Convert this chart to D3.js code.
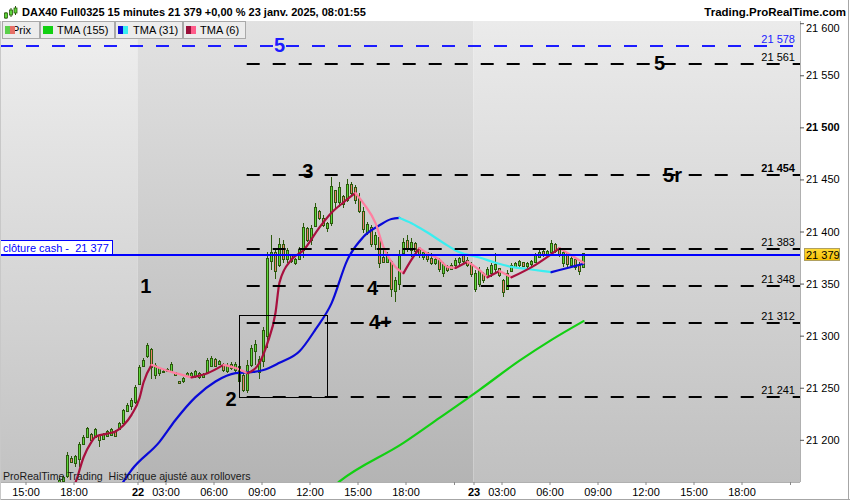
<!DOCTYPE html>
<html>
<head>
<meta charset="utf-8">
<script src="https://cdn.jsdelivr.net/npm/d3@7/dist/d3.min.js"></script>
<style>
html,body{margin:0;padding:0;background:#fff;overflow:hidden;}
svg{display:block;font-family:Arial,"Liberation Sans",Helvetica,sans-serif;}
</style>
</head>
<body>
<svg id="chart" width="850" height="500"></svg>
<script>
// ================= DATA =================
const firstBarIndex = -20;   // bar index of first candle (day 22 01:15 = 0, 15-min bars)
const opens  = [21150,21160,21165,21183,21178,21182,21196,21203,21206,21203,21205,21201,21204,21205,21208,21210,21216,21228,21232,21236,
                21254,21271,21280,21287,21262,21264,21265,21266,21266,21265,21256,21256,21261,21260,21261,21264,21260,21265,21271,21278,
                21273,21273,21266,21273,21267,21271,21262,21248,21272,21285,21265,21276,21300,21372,21380,21368,21388,21374,21377,21370,
                21374,21382,21403,21392,21405,21420,21413,21403,21408,21440,21428,21434,21430,21446,21443,21432,21420,21400,21404,21388,
                21395,21376,21371,21372,21343,21350,21379,21392,21382,21389,21383,21376,21380,21375,21370,21373,21360,21367,21364,21368,
                21371,21377,21373,21369,21345,21350,21360,21357,21360,21364,21365,21353,21345,21362,21366,21368,21371,21367,21369,21371,
                21376,21381,21377,21380,21388,21383,21370,21379,21368,21374,21368,21366];
const highs  = [21163,21165,21188,21184,21185,21198,21205,21212,21207,21211,21206,21207,21209,21211,21209,21217,21230,21235,21240,21253,
                21272,21279,21293,21288,21274,21270,21267,21269,21275,21265,21256,21260,21265,21265,21267,21265,21264,21279,21280,21279,
                21277,21274,21274,21275,21275,21274,21265,21277,21291,21296,21280,21308,21380,21397,21384,21394,21392,21384,21377,21375,
                21385,21408,21404,21406,21427,21421,21416,21409,21452,21440,21448,21435,21450,21448,21445,21437,21424,21409,21406,21400,
                21395,21382,21380,21373,21356,21382,21394,21397,21394,21390,21385,21382,21380,21379,21376,21375,21371,21368,21370,21375,
                21376,21378,21376,21371,21363,21366,21361,21366,21370,21379,21365,21354,21363,21370,21371,21373,21371,21371,21373,21379,
                21382,21382,21382,21392,21389,21384,21382,21380,21377,21375,21371,21379];
const lows   = [21147,21159,21163,21178,21174,21174,21195,21202,21198,21202,21193,21200,21203,21204,21203,21209,21214,21227,21229,21234,
                21253,21270,21279,21258,21258,21261,21264,21265,21264,21261,21254,21255,21261,21259,21259,21258,21259,21264,21270,21270,
                21272,21265,21264,21267,21264,21245,21246,21245,21270,21272,21258,21270,21288,21363,21354,21366,21370,21370,21370,21368,
                21373,21375,21390,21387,21404,21411,21404,21400,21405,21423,21424,21423,21428,21435,21426,21418,21399,21397,21385,21382,
                21365,21370,21370,21337,21332,21344,21378,21380,21376,21378,21375,21373,21371,21368,21368,21361,21356,21361,21363,21366,
                21368,21370,21366,21356,21342,21347,21351,21356,21356,21360,21356,21337,21344,21361,21365,21366,21366,21365,21366,21370,
                21375,21376,21375,21379,21379,21376,21366,21366,21366,21363,21358,21365];
const closes = [21161,21164,21185,21179,21184,21196,21203,21211,21200,21210,21200,21206,21208,21210,21204,21216,21229,21233,21238,21251,
                21270,21277,21291,21270,21272,21269,21266,21268,21273,21262,21255,21259,21264,21264,21266,21260,21263,21277,21279,21271,
                21276,21267,21272,21269,21273,21256,21248,21272,21288,21292,21278,21305,21375,21380,21362,21388,21374,21382,21372,21374,
                21383,21404,21392,21403,21424,21413,21406,21408,21444,21428,21443,21426,21446,21437,21430,21420,21402,21407,21388,21397,
                21370,21371,21378,21345,21353,21378,21390,21383,21390,21381,21377,21380,21374,21370,21374,21364,21369,21363,21368,21373,
                21375,21372,21368,21359,21360,21363,21353,21364,21368,21369,21358,21342,21360,21368,21370,21372,21367,21370,21372,21378,
                21380,21377,21381,21389,21381,21378,21380,21369,21375,21366,21362,21379];

const tma155Bars = [46,50,66,75,85,95,103,111];
const tma155Vals = [21147,21160,21197,21221,21248,21276,21296,21314];

const tma31Bars = [-7,-4,-2,5,9,14,19,24,28,31,35,40,44,48,52,56,60,63,65,68,72,76,80,85,89,93,97,101,103,107,111];
const tma31Vals = [21138,21160,21171,21198,21219,21241,21256,21264,21265,21267,21274,21285,21306,21331,21373,21395,21406,21412,21413,
                   21408,21399,21389,21380,21375,21370,21366,21364,21362,21361,21365,21369];

const tma6Bars = [-18,-16,-14,-12,-11,-8,-6,-4,-2,0,1,3,5,9,13,17,21,24,27,30,32,34,35,38,41,45,48,51,54,56,59,61,64,66,68,70,72,75,77,79,82,85,87,90,93,99,105,111];
const tma6Vals = [21147,21159,21183,21198,21203,21206,21208,21214,21224,21240,21255,21272,21269,21264,21260,21264,21272,21269,21264,21274,
                  21293,21322,21351,21373,21382,21404,21418,21428,21437,21427,21408,21385,21366,21360,21373,21384,21379,21373,21366,21365,
                  21371,21363,21356,21362,21356,21368,21384,21370];

const levelValues = [21561,21454,21383,21348,21312,21241];
const levelBold   = [false,true,false,false,false,false];
const levelStartBar = 26.8;
const blueLevel = 21578;
const cashClose = 21377;
const lastPrice = 21379;

const yTickValues = [21200,21250,21300,21350,21400,21450,21500,21550,21600];
const xTickLabels = ["15:00","18:00","22","03:00","06:00","09:00","12:00","15:00","18:00","23","03:00","06:00","09:00","12:00","15:00","18:00"];
const xTickBars   = [-28,-16,0,7,19,31,43,55,67,84,91,103,115,127,139,151];
const xMinorTickBars = [79,163];
const dayStartBars = [-84,0,84];

const waveLabels = ["1","2","3","4","4+","5","5r","5"];
const waveBars   = [1.6,22.9,42.1,58.25,60.25,130,133.25,35];
const wavePrices = [21341,21232,21451.5,21339,21306.5,21555,21447.5,21572.5];
const boxBars   = [25,47];
const boxPrices = [21320,21241];

const titleText = "DAX40 Full0325 15 minutes 21 379 +0,00 % 23 janv. 2025, 08:01:55";
const brandText = "Trading.ProRealTime.com";
const footText  = "ProRealTime Trading  Historique ajusté aux rollovers";
const cashText  = "clôture cash -  21 377";
const legendItems = ["Prix","TMA (155)","TMA (31)","TMA (6)"];

// ================= LAYOUT =================
const W = 850, H = 500;
const plot = {left:0, right:800, top:21, bottom:482};
const svg = d3.select("#chart");
const fmt = d3.formatLocale({decimal:",", thousands:" ", grouping:[3], currency:["","€"]}).format(",d");

const x = d3.scaleLinear().domain([0,111]).range([139.5,583.5]);
const y = d3.scaleLinear().domain([21159.5,21600]).range([482,23.2]);

const defs = svg.append("defs");
function grad(id, c1, c2){
  const g = defs.append("linearGradient").attr("id",id).attr("gradientUnits","userSpaceOnUse")
    .attr("x1",0).attr("x2",0).attr("y1",plot.top).attr("y2",plot.bottom);
  g.append("stop").attr("offset","0").attr("stop-color",c1);
  g.append("stop").attr("offset","1").attr("stop-color",c2);
}
grad("bgLight","#efefef","#c2c2c2");
grad("bgDark","#e2e2e2","#b4b4b4");
grad("bgLight2","#ebebeb","#c0c0c0");
const tagGrad = defs.append("linearGradient").attr("id","tag").attr("x1",0).attr("x2",0).attr("y1",0).attr("y2",1);
tagGrad.append("stop").attr("offset",0).attr("stop-color","#ffdc3a");
tagGrad.append("stop").attr("offset",1).attr("stop-color","#f5bd00");
defs.append("clipPath").attr("id","plotClip").append("rect")
  .attr("x",plot.left).attr("y",plot.top).attr("width",plot.right-plot.left).attr("height",plot.bottom-plot.top);

svg.append("rect").attr("width",W).attr("height",H).attr("fill","#fff");

// day bands
const bandFills = ["url(#bgLight)","url(#bgDark)","url(#bgLight2)"];
dayStartBars.forEach((b,k)=>{
  const x0 = Math.max(plot.left, x(b-0.5));
  const x1 = k<dayStartBars.length-1 ? x(dayStartBars[k+1]-0.5) : plot.right;
  svg.append("rect").attr("x",x0).attr("y",plot.top).attr("width",Math.min(x1,plot.right)-x0)
    .attr("height",plot.bottom-plot.top).attr("fill",bandFills[k]);
});

const pg = svg.append("g").attr("clip-path","url(#plotClip)");

// candles
const outline = "#2b5a0c", upFill = "#5cd63a", dnFill = "#ec7f6b";
const cg = pg.append("g");
opens.forEach((o,k)=>{
  const i = firstBarIndex + k, c = closes[k];
  const cx = x(i);
  cg.append("line").attr("x1",cx).attr("x2",cx)
    .attr("y1",Math.round(y(highs[k]))).attr("y2",Math.round(y(lows[k])))
    .attr("stroke",outline).attr("stroke-width",1);
  const top = Math.round(y(Math.max(o,c)))+0.5, bot = Math.round(y(Math.min(o,c)))+0.5;
  if (bot-top < 1) {
    cg.append("line").attr("x1",cx-1.5).attr("x2",cx+1.5).attr("y1",top).attr("y2",top)
      .attr("stroke",outline).attr("stroke-width",1);
  } else {
    cg.append("rect").attr("x",cx-1).attr("y",top).attr("width",2).attr("height",bot-top)
      .attr("fill", c>=o?upFill:dnFill).attr("stroke",outline).attr("stroke-width",1);
  }
});

// moving averages
function drawTMA(bars, vals, upColor, downColor){
  const line = d3.line().x(d=>x(d[0])).y(d=>y(d[1])).curve(d3.curveMonotoneX);
  const pts = bars.map((b,k)=>[b,vals[k]]);
  const runs = []; let cur=[pts[0]], dir=0;
  for (let k=1;k<pts.length;k++){
    const d = Math.sign(pts[k][1]-pts[k-1][1]);
    if (dir!==0 && d!==0 && d!==dir){ runs.push({dir,pts:cur}); cur=[pts[k-1]]; }
    if (d!==0) dir=d;
    cur.push(pts[k]);
  }
  runs.push({dir,pts:cur});
  runs.forEach(r=>pg.append("path").attr("d",line(r.pts)).attr("fill","none")
    .attr("stroke", r.dir>=0?upColor:downColor).attr("stroke-width",2.2)
    .attr("stroke-linecap","round").attr("stroke-linejoin","round"));
}
drawTMA(tma155Bars, tma155Vals, "#12d012", "#12d012");
drawTMA(tma31Bars, tma31Vals, "#0a0ad8", "#3aeef0");
drawTMA(tma6Bars, tma6Vals, "#a8103e", "#ff7fa0");

// levels
levelValues.forEach((v,k)=>{
  const yy = Math.round(y(v));
  pg.append("line").attr("x1",x(levelStartBar)).attr("x2",plot.right).attr("y1",yy).attr("y2",yy)
    .attr("stroke","#000").attr("stroke-width",2).attr("stroke-dasharray","13,13");
  svg.append("text").attr("x",795).attr("y",yy-3).attr("text-anchor","end")
    .attr("font-size",11).attr("font-weight",levelBold[k]?"bold":"normal").attr("fill","#000").text(fmt(v));
});
{
  const yy = Math.round(y(blueLevel));
  pg.append("line").attr("x1",plot.left).attr("x2",plot.right).attr("y1",yy).attr("y2",yy)
    .attr("stroke","#1c1cff").attr("stroke-width",2).attr("stroke-dasharray","13,13");
  svg.append("text").attr("x",795).attr("y",yy-3).attr("text-anchor","end")
    .attr("font-size",11).attr("fill","#1c1cff").text(fmt(blueLevel));
}
// cash close line
const cashY = Math.round(y(cashClose));
pg.append("line").attr("x1",plot.left).attr("x2",plot.right).attr("y1",cashY).attr("y2",cashY)
  .attr("stroke","#0000ff").attr("stroke-width",2);

// box
pg.append("rect").attr("x",x(boxBars[0])).attr("y",Math.round(y(boxPrices[0]))+0.5)
  .attr("width",x(boxBars[1])-x(boxBars[0])).attr("height",Math.round(y(boxPrices[1]))-Math.round(y(boxPrices[0])))
  .attr("fill","none").attr("stroke","#000").attr("stroke-width",1);

// wave labels
waveLabels.forEach((t,k)=>{
  pg.append("text").attr("x",x(waveBars[k])).attr("y",y(wavePrices[k])).attr("text-anchor","middle")
    .attr("font-size",20).attr("font-weight","bold").attr("fill", k===waveLabels.length-1?"#1c1cff":"#000").text(t);
});

// cash label
svg.append("rect").attr("x",0.5).attr("y",cashY-14.5).attr("width",112).attr("height",14)
  .attr("fill","#fff").attr("stroke","#0000ff").attr("stroke-width",1);
svg.append("text").attr("x",3).attr("y",cashY-3.5).attr("font-size",11).attr("fill","#0000ff")
  .style("white-space","pre").text(cashText);

// footer text
svg.append("text").attr("x",3).attr("y",479.5).attr("font-size",10.6).attr("fill","#1a1a1a")
  .style("white-space","pre").text(footText);

// right axis panel
svg.append("rect").attr("x",plot.right).attr("y",plot.top).attr("width",W-plot.right).attr("height",plot.bottom-plot.top).attr("fill","#fff");
svg.append("rect").attr("x",0).attr("y",plot.bottom).attr("width",W).attr("height",H-plot.bottom).attr("fill","#fff");
svg.append("line").attr("x1",plot.right+0.5).attr("x2",plot.right+0.5).attr("y1",plot.top).attr("y2",plot.bottom)
  .attr("stroke","#b0b0b0");
svg.append("line").attr("x1",0).attr("x2",plot.right).attr("y1",plot.bottom+0.5).attr("y2",plot.bottom+0.5)
  .attr("stroke","#b0b0b0");

const yAxis = svg.append("g").attr("transform",`translate(${plot.right},0)`)
  .call(d3.axisRight(y).tickValues(yTickValues).tickSize(4).tickPadding(2).tickFormat(fmt));
yAxis.select(".domain").remove();
yAxis.selectAll("line").attr("stroke","#555");
yAxis.selectAll("text").attr("font-size",11).attr("font-family","Arial,'Liberation Sans',sans-serif").attr("fill","#000")
  .attr("font-weight",d=>d===21500?"bold":"normal")
  .attr("dy",d=> y(d)<28 ? (28-y(d)+3.5)+"px" : "0.32em");

// x axis
const xAxis = svg.append("g").attr("transform",`translate(0,${plot.bottom})`)
  .call(d3.axisBottom(x).tickValues(xTickBars.map(b=>b-0.5)).tickSize(3).tickPadding(3)
    .tickFormat((d,k)=>xTickLabels[k]));
xAxis.select(".domain").remove();
xAxis.selectAll("line").attr("stroke","#888");
xAxis.selectAll("text").attr("font-size",11).attr("font-family","Arial,'Liberation Sans',sans-serif").attr("fill","#000")
  .attr("font-weight",(d,k)=>/^\d+$/.test(xTickLabels[k])?"bold":"normal");
xMinorTickBars.forEach(b=>{
  const xx = Math.round(x(b-0.5))+0.5;
  svg.append("line").attr("x1",xx).attr("x2",xx).attr("y1",plot.bottom).attr("y2",plot.bottom+3).attr("stroke","#888");
});

// last price tag
const tagY = Math.round(y(lastPrice));
svg.append("rect").attr("x",804.5).attr("y",tagY-4.5).attr("width",35).attr("height",12)
  .attr("fill","url(#tag)").attr("stroke","#b0a060");
svg.append("text").attr("x",806).attr("y",tagY+5.5).attr("font-size",11).attr("fill","#000").text(fmt(lastPrice));

// title bar
svg.append("rect").attr("x",0).attr("y",0).attr("width",W).attr("height",plot.top).attr("fill","#fff");
const icon = svg.append("g");
[[6,12,19,13,18],[11,8,17,10,15],[15.5,6,15,8,13]].forEach(c=>{
  icon.append("line").attr("x1",c[0]).attr("x2",c[0]).attr("y1",c[1]).attr("y2",c[2]).attr("stroke","#2b5a0c");
  icon.append("rect").attr("x",c[0]-1.5).attr("y",c[3]).attr("width",3).attr("height",c[4]-c[3])
    .attr("fill","#5cd63a").attr("stroke","#2b5a0c").attr("stroke-width",0.8);
});
svg.append("text").attr("x",22).attr("y",15.7).attr("font-size",11).attr("font-weight","bold").attr("fill","#000")
  .text(titleText);
svg.append("text").attr("x",846).attr("y",16).attr("text-anchor","end").attr("font-size",11.5)
  .attr("font-weight","bold").attr("fill","#000").text(brandText);

// legend tabs
const tabX = [[2.5,39.5],[40.5,114.5],[115.5,182.5],[183.5,245.5]];
const tabIcons = [["#5ad04a","#e56f66"],["#12d012","#12d012"],["#0a0ad8","#3aeef0"],["#99103a","#ff5c8a"]];
const tabTextX = [12,57,133,200];
legendItems.forEach((t,k)=>{
  svg.append("rect").attr("x",tabX[k][0]).attr("y",21.5).attr("width",tabX[k][1]-tabX[k][0]).attr("height",17)
    .attr("fill","#ececec").attr("stroke","#a9a9a9");
  svg.append("text").attr("x",tabTextX[k]).attr("y",34.3).attr("font-size",11).attr("fill","#000").text(t);
  const ix = tabX[k][0]+2.5;
  svg.append("rect").attr("x",ix).attr("y",26).attr("width",5).attr("height",8).attr("fill",tabIcons[k][0]);
  svg.append("rect").attr("x",ix+5).attr("y",26).attr("width",5).attr("height",8).attr("fill",tabIcons[k][1]);
});

// outer frame
svg.append("line").attr("x1",848.5).attr("x2",848.5).attr("y1",0).attr("y2",H).attr("stroke","#a6a6a6");
svg.append("line").attr("x1",0).attr("x2",W).attr("y1",499.5).attr("y2",499.5).attr("stroke","#a6a6a6");
svg.append("line").attr("x1",0.5).attr("x2",0.5).attr("y1",plot.top).attr("y2",H).attr("stroke","#c8c8c8");
</script>
</body>
</html>
